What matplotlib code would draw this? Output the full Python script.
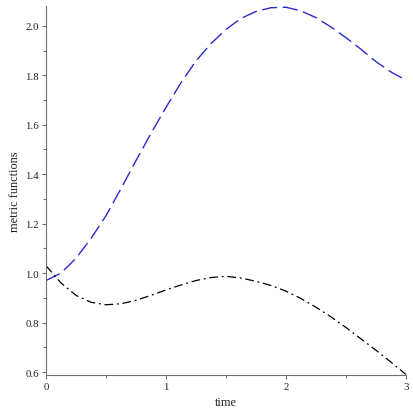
import matplotlib
matplotlib.use("Agg")
import matplotlib.pyplot as plt
from matplotlib.ticker import MultipleLocator

t = [0.0, 0.125, 0.25, 0.375, 0.5, 0.625, 0.75, 0.875, 1.0, 1.125, 1.25, 1.375, 1.5,
     1.625, 1.75, 1.875, 2.0, 2.125, 2.25, 2.375, 2.5, 2.625, 2.75, 2.875, 3.0]
blue_vals = [0.970, 1.000, 1.060, 1.140, 1.232, 1.342, 1.455, 1.565, 1.670, 1.770,
             1.858, 1.928, 1.985, 2.030, 2.058, 2.073, 2.075, 2.060, 2.033, 1.995,
             1.952, 1.905, 1.855, 1.813, 1.780]
black_vals = [1.030, 0.960, 0.910, 0.882, 0.872, 0.876, 0.890, 0.910, 0.932, 0.952,
              0.970, 0.982, 0.987, 0.980, 0.967, 0.950, 0.927, 0.897, 0.862, 0.823,
              0.780, 0.734, 0.688, 0.640, 0.590]
xticks = [0, 1, 2, 3]
yticks = [0.6, 0.8, 1.0, 1.2, 1.4, 1.6, 1.8, 2.0]

plt.rcParams['font.family'] = ['Liberation Serif', 'DejaVu Serif']

fig = plt.figure(figsize=(4.14, 4.14), dpi=100)
ax = fig.add_axes([46/414, 1-376/414, 360/414, 369/414])

ax.plot(t, blue_vals, color='#2a2acc', lw=1.0, dashes=(11, 4))
ax.plot(t, black_vals, color='black', lw=0.9, dashes=(7, 3, 1.5, 3))

ax.set_xlim(0, 3)
ax.set_ylim(0.588, 2.08)
ax.set_xticks(xticks)
ax.set_xticklabels([str(v) for v in xticks])
ax.set_yticks(yticks)
ax.set_yticklabels([f"{v:.1f}" for v in yticks])
ax.xaxis.set_minor_locator(MultipleLocator(0.5))
ax.yaxis.set_minor_locator(MultipleLocator(0.1))

for s in ['top', 'right']:
    ax.spines[s].set_visible(False)
for s in ['left', 'bottom']:
    ax.spines[s].set_color('#707070')
    ax.spines[s].set_linewidth(0.8)

ax.tick_params(which='major', length=3, width=0.8, color='#707070', labelsize=7.8,
               labelcolor='#222222', pad=2)
ax.tick_params(which='minor', length=2, width=0.7, color='#707070')

ax.set_xlabel('time', fontsize=8.8, color='#222222', labelpad=4)
ax.set_ylabel('metric functions', fontsize=8.8, color='#222222', labelpad=3)

fig.savefig('out.png', dpi=100)
